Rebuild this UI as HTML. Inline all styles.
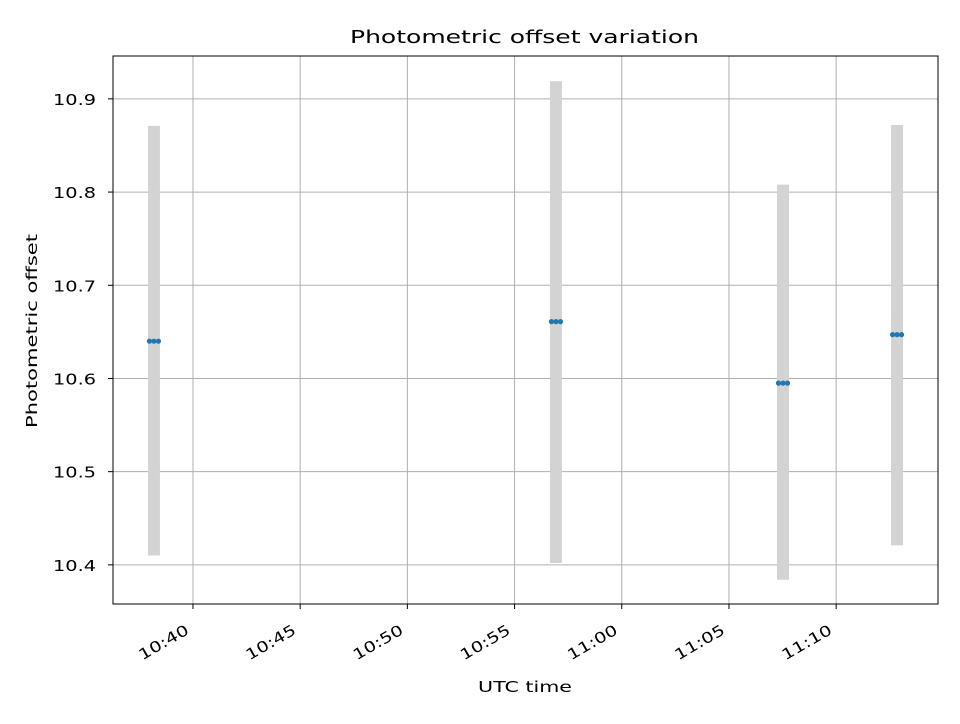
<!DOCTYPE html>
<html><head><meta charset="utf-8"><style>
body{margin:0;background:#fff;font-family:"DejaVu Sans","Liberation Sans",sans-serif}
svg text{font-family:"DejaVu Sans","Liberation Sans",sans-serif}
</style></head><body>
<svg id="chart" width="960" height="720" xmlns="http://www.w3.org/2000/svg">
<rect width="960" height="720" fill="#fff"/>
<g id="grid"></g><g id="bars"></g><g id="pts"></g><g id="axes"></g>
<text x="350" y="43" font-size="18" textLength="349" lengthAdjust="spacingAndGlyphs">Photometric offset variation</text>
<text x="478" y="692" font-size="15" textLength="94" lengthAdjust="spacingAndGlyphs">UTC time</text>
<text transform="translate(37,428) rotate(-90)" font-size="15" textLength="194" lengthAdjust="spacingAndGlyphs">Photometric offset</text>
</svg>
<script>
// times in minutes after 10:00
const groupTimes=[38.18,56.93,67.52,72.84];
const groupValues=[10.640,10.661,10.595,10.647];
const groupLow=[10.410,10.402,10.384,10.421];
const groupHigh=[10.871,10.919,10.808,10.872];
const pointOffsets=[-0.21,0,0.21];
const xTicks=[40,45,50,55,60,65,70];
const xTickLabels=["10:40","10:45","10:50","10:55","11:00","11:05","11:10"];
const yTicks=[10.4,10.5,10.6,10.7,10.8,10.9];
const yTickLabels=["10.4","10.5","10.6","10.7","10.8","10.9"];
const L=113,R=938,T=56,B=604,xmin=36.27,xmax=74.75,ymin=10.358,ymax=10.946;
const X=v=>L+(v-xmin)/(xmax-xmin)*(R-L);
const Y=v=>B-(v-ymin)/(ymax-ymin)*(B-T);
const NS="http://www.w3.org/2000/svg";
function mk(p,t,a){const e=document.createElementNS(NS,t);for(const k in a)e.setAttribute(k,a[k]);document.getElementById(p).appendChild(e);return e;}
xTicks.forEach((t,i)=>{
 const x=X(t);
 const g=mk('grid','line',{x1:x,x2:x,y1:T,y2:B,stroke:'#b0b0b0','stroke-width':1});
 
 
 mk('axes','line',{x1:x,x2:x,y1:B,y2:B+5,stroke:'#000'});
 const tx=mk('axes','text',{x:-55,y:0,'font-size':15,textLength:55,lengthAdjust:'spacingAndGlyphs',transform:`translate(${x-3},${B+29}) rotate(-30)`});
 tx.textContent=xTickLabels[i];
 
 
});
yTicks.forEach((t,i)=>{
 const y=Y(t);
 const g=mk('grid','line',{x1:L,x2:R,y1:y,y2:y,stroke:'#b0b0b0','stroke-width':1});
 
 
 mk('axes','line',{x1:L-5,x2:L,y1:y,y2:y,stroke:'#000'});
 const tx=mk('axes','text',{x:L-60,y:y+6,'font-size':15,textLength:43,lengthAdjust:'spacingAndGlyphs'});
 tx.textContent=yTickLabels[i];
 
 
});
groupTimes.forEach((t,i)=>{
 const b=mk('bars','rect',{x:X(t)-6,y:Y(groupHigh[i]),width:12,height:Y(groupLow[i])-Y(groupHigh[i]),fill:'#d3d3d3'});
 
 
 pointOffsets.forEach(o=>{
  const c=mk('pts','circle',{cx:X(t+o),cy:Y(groupValues[i]),r:2.6,fill:'#1f77b4'});
  
  
 });
});
const fr=mk('axes','rect',{x:L,y:T,width:R-L,height:B-T,fill:'none',stroke:'#000','stroke-width':1});


</script>
</body></html>
